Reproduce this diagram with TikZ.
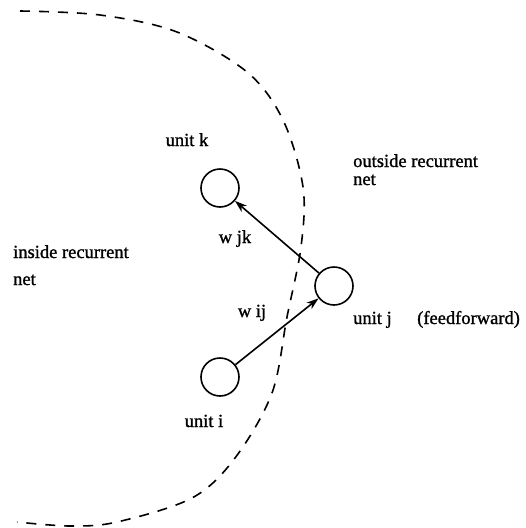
\documentclass[tikz,border=0pt]{standalone}
\usepackage{fontspec}
\setmainfont[FakeBold=1.2]{Liberation Serif}
\usetikzlibrary{arrows.meta}
\begin{document}
\begin{tikzpicture}[x=1pt,y=-1pt,
  unit/.style={draw,circle,line width=1.6pt,minimum size=38pt,inner sep=0pt},
  lbl/.style={font=\fontsize{18.5}{20}\selectfont,inner sep=0pt},
  link/.style={line width=1.6pt,-{Stealth[length=12pt,width=8pt,inset=3.5pt]}},
  boundary/.style={line width=1.6pt,dash pattern=on 10pt off 9pt}]
\useasboundingbox (0,0) rectangle (526,528);
% boundary of the recurrent net
\draw[boundary] plot[smooth,tension=0.55] coordinates {
  (20,11) (100,15) (177,32) (247,72) (283,120) (303,187) (301,247)
  (287,317) (272,393) (235,458) (192,498) (117,522) (70,526) (17,522)};
% units
\node[unit] (k) at (220,188) {};
\node[unit] (j) at (334,286) {};
\node[unit] (i) at (220,377) {};
% connections
\draw[link] (j) -- (k);
\draw[link] (i) -- (j);
% labels
\node[lbl,anchor=base] (lk) at (187,146) {unit k};
\node[lbl,anchor=base] (li) at (204,427) {unit i};
\node[lbl,anchor=base west] (lj) at (353,324) {unit j};
\node[lbl,anchor=base west] (lff) at (417,324) {(feedforward)};
\node[lbl,anchor=base] (wjk) at (235,243) {w jk};
\node[lbl,anchor=base] (wij) at (252,317) {w ij};
\node[lbl,anchor=base west] (out1) at (353,167) {outside recurrent};
\node[lbl,anchor=base west] (out2) at (353,185) {net};
\node[lbl,anchor=base west] (in1) at (13,258) {inside recurrent};
\node[lbl,anchor=base west] (in2) at (13,285) {net};
\end{tikzpicture}
\end{document}
